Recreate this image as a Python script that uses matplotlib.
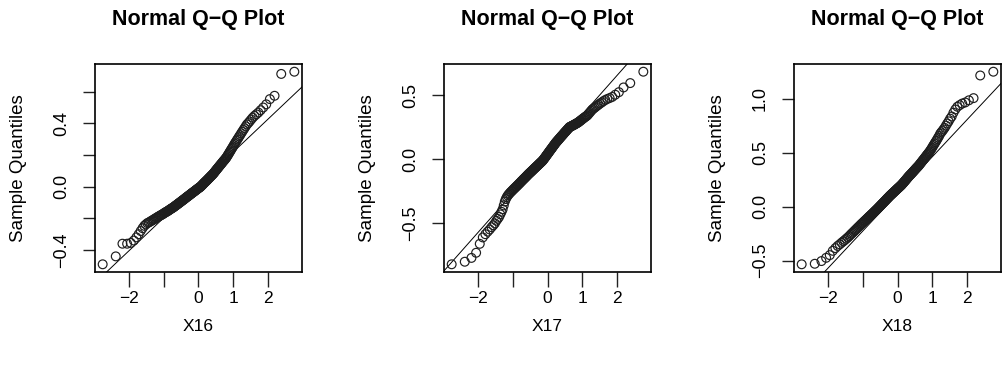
import numpy as np
import matplotlib
matplotlib.use('Agg')
import matplotlib.pyplot as plt
from statistics import NormalDist

plt.rcParams['font.family'] = ['Liberation Sans', 'DejaVu Sans']

# sorted sample values for each variable
x16 = [-0.49, -0.44, -0.36, -0.36, -0.355, -0.34, -0.32, -0.30, -0.28, -0.262,
       -0.247, -0.238, -0.230, -0.226, -0.221, -0.216, -0.212, -0.207, -0.203, -0.199,
       -0.195, -0.191, -0.188, -0.184, -0.181, -0.178, -0.175, -0.172, -0.168, -0.165,
       -0.162, -0.159, -0.157, -0.154, -0.151, -0.148, -0.145, -0.142, -0.139, -0.137,
       -0.134, -0.132, -0.129, -0.126, -0.123, -0.120, -0.117, -0.115, -0.112, -0.109,
       -0.106, -0.104, -0.101, -0.098, -0.096, -0.093, -0.090, -0.088, -0.085, -0.083,
       -0.080, -0.078, -0.075, -0.072, -0.070, -0.067, -0.065, -0.062, -0.060, -0.058,
       -0.055, -0.053, -0.050, -0.048, -0.045, -0.043, -0.041, -0.038, -0.036, -0.034,
       -0.031, -0.029, -0.027, -0.024, -0.022, -0.020, -0.017, -0.015, -0.013, -0.010,
       -0.008, -0.006, -0.004, -0.002, 0.001, 0.004, 0.007, 0.010, 0.013, 0.017,
       0.020, 0.023, 0.026, 0.029, 0.032, 0.035, 0.038, 0.041, 0.044, 0.048,
       0.051, 0.054, 0.057, 0.061, 0.064, 0.067, 0.071, 0.074, 0.077, 0.081,
       0.085, 0.089, 0.093, 0.098, 0.102, 0.106, 0.111, 0.115, 0.119, 0.124,
       0.128, 0.133, 0.137, 0.142, 0.146, 0.151, 0.156, 0.161, 0.165, 0.170,
       0.175, 0.180, 0.186, 0.193, 0.200, 0.207, 0.215, 0.222, 0.230, 0.238,
       0.246, 0.254, 0.263, 0.272, 0.280, 0.289, 0.298, 0.307, 0.317, 0.326,
       0.337, 0.347, 0.358, 0.369, 0.381, 0.393, 0.402, 0.412, 0.424, 0.436,
       0.447, 0.457, 0.468, 0.483, 0.500, 0.520, 0.553, 0.574, 0.712, 0.726]

x17 = [-0.82, -0.80, -0.77, -0.73, -0.66, -0.61, -0.585, -0.565, -0.548, -0.53,
       -0.515, -0.50, -0.48, -0.465, -0.45, -0.43, -0.41, -0.39, -0.36, -0.33,
       -0.31, -0.295, -0.283, -0.274, -0.266, -0.258, -0.252, -0.245, -0.239, -0.232,
       -0.227, -0.221, -0.215, -0.210, -0.204, -0.199, -0.193, -0.188, -0.183, -0.177,
       -0.172, -0.167, -0.162, -0.157, -0.152, -0.148, -0.143, -0.138, -0.134, -0.129,
       -0.124, -0.120, -0.115, -0.111, -0.107, -0.103, -0.099, -0.095, -0.091, -0.087,
       -0.083, -0.079, -0.075, -0.071, -0.067, -0.064, -0.060, -0.056, -0.052, -0.049,
       -0.045, -0.041, -0.037, -0.034, -0.030, -0.026, -0.023, -0.019, -0.015, -0.012,
       -0.007, -0.002, 0.003, 0.008, 0.013, 0.018, 0.023, 0.029, 0.034, 0.039,
       0.044, 0.049, 0.054, 0.060, 0.065, 0.070, 0.075, 0.080, 0.085, 0.090,
       0.096, 0.101, 0.106, 0.111, 0.116, 0.122, 0.127, 0.132, 0.136, 0.141,
       0.145, 0.150, 0.154, 0.159, 0.164, 0.168, 0.173, 0.178, 0.182, 0.187,
       0.191, 0.196, 0.201, 0.206, 0.211, 0.215, 0.220, 0.225, 0.230, 0.235,
       0.240, 0.245, 0.251, 0.253, 0.256, 0.258, 0.261, 0.263, 0.266, 0.268,
       0.271, 0.274, 0.277, 0.280, 0.283, 0.286, 0.290, 0.294, 0.299, 0.303,
       0.308, 0.313, 0.318, 0.323, 0.328, 0.333, 0.338, 0.343, 0.352, 0.361,
       0.370, 0.380, 0.390, 0.397, 0.404, 0.412, 0.420, 0.428, 0.437, 0.445,
       0.455, 0.464, 0.472, 0.479, 0.488, 0.505, 0.525, 0.562, 0.596, 0.685]

x18 = [-0.535, -0.53, -0.505, -0.475, -0.45, -0.41, -0.385, -0.365, -0.35, -0.335,
       -0.322, -0.31, -0.298, -0.287, -0.275, -0.263, -0.252, -0.242, -0.232, -0.222,
       -0.213, -0.204, -0.195, -0.187, -0.179, -0.171, -0.163, -0.156, -0.149, -0.142,
       -0.135, -0.129, -0.122, -0.116, -0.110, -0.103, -0.097, -0.091, -0.086, -0.080,
       -0.074, -0.069, -0.063, -0.058, -0.052, -0.047, -0.041, -0.036, -0.031, -0.026,
       -0.020, -0.015, -0.010, -0.004, 0.001, 0.006, 0.011, 0.017, 0.022, 0.027,
       0.032, 0.037, 0.042, 0.047, 0.052, 0.057, 0.062, 0.067, 0.072, 0.077,
       0.082, 0.086, 0.091, 0.096, 0.101, 0.105, 0.109, 0.113, 0.118, 0.122,
       0.126, 0.130, 0.134, 0.139, 0.143, 0.147, 0.151, 0.155, 0.160, 0.164,
       0.168, 0.172, 0.176, 0.180, 0.184, 0.189, 0.193, 0.197, 0.201, 0.207,
       0.212, 0.217, 0.222, 0.228, 0.233, 0.238, 0.244, 0.249, 0.255, 0.260,
       0.266, 0.271, 0.277, 0.282, 0.288, 0.292, 0.297, 0.302, 0.308, 0.313,
       0.318, 0.324, 0.329, 0.335, 0.340, 0.346, 0.352, 0.357, 0.363, 0.368,
       0.374, 0.380, 0.386, 0.394, 0.401, 0.408, 0.415, 0.423, 0.430, 0.437,
       0.445, 0.453, 0.461, 0.469, 0.478, 0.486, 0.494, 0.503, 0.512, 0.523,
       0.534, 0.546, 0.559, 0.571, 0.584, 0.597, 0.610, 0.625, 0.640, 0.655,
       0.675, 0.688, 0.700, 0.715, 0.730, 0.750, 0.770, 0.790, 0.815, 0.835,
       0.870, 0.900, 0.925, 0.940, 0.955, 0.965, 0.985, 1.005, 1.215, 1.25]

names = ['X16', 'X17', 'X18']
samples = [x16, x17, x18]

# reference lines (intercept, slope) for each panel
line_intercepts = [0.011, 0.042, 0.117]
line_slopes = [0.2066, 0.305, 0.342]

x_ticks = [-2, -1, 0, 1, 2]
x_tick_labels = ['\u22122', '', '0', '1', '2']
y_ticks = [[-0.4, -0.2, 0.0, 0.2, 0.4, 0.6],
           [-0.5, 0.0, 0.5],
           [-0.5, 0.0, 0.5, 1.0]]
y_tick_labels = [['\u22120.4', '', '0.0', '', '0.4', ''],
                 ['\u22120.5', '0.0', '0.5'],
                 ['\u22120.5', '0.0', '0.5', '1.0']]

nd = NormalDist()


def ppoints(n):
    a = 3 / 8 if n <= 10 else 0.5
    return (np.arange(1, n + 1) - a) / (n + 1 - 2 * a)


def padded(v):
    # 4% extension on each side
    lo, hi = min(v), max(v)
    d = (hi - lo) * 0.04
    return lo - d, hi + d


fig = plt.figure(figsize=(10.02, 3.70), dpi=100)
lefts = [95, 444, 794]

for k in range(3):
    y = np.sort(np.array(samples[k]))
    x = np.array([nd.inv_cdf(p) for p in ppoints(len(y))])

    ax = fig.add_axes([lefts[k] / 1002, 98 / 370, 207 / 1002, 208 / 370])
    ax.scatter(x, y, s=40, facecolors='none', edgecolors='#1e1e1e', linewidths=0.85, zorder=3)
    ax.axline((0, line_intercepts[k]), slope=line_slopes[k], color='black', lw=0.7, zorder=2)

    ax.set_xlim(*padded(x))
    ax.set_ylim(*padded(y))

    ax.set_xticks(x_ticks, x_tick_labels, fontsize=12.5)
    ax.set_yticks(y_ticks[k], y_tick_labels[k], fontsize=13)
    plt.setp(ax.get_yticklabels(), rotation=90, va='center')
    ax.tick_params(axis='x', length=11, width=1.0, pad=3, color='#222')
    ax.tick_params(axis='y', length=9, width=1.0, pad=9, color='#222')
    for s in ax.spines.values():
        s.set_linewidth(1.2)

    ax.set_title('Normal Q\u2212Q Plot', fontsize=15.5, fontweight='bold',
                 y=1.216, pad=0, va='center')
    ax.set_xlabel(names[k], fontsize=12.5, va='center')
    ax.xaxis.set_label_coords(0.5, -0.264)
    ax.set_ylabel('Sample Quantiles', fontsize=13.5, va='center')
    ax.yaxis.set_label_coords(-0.37, 0.5)

fig.savefig('out.png', dpi=100)
